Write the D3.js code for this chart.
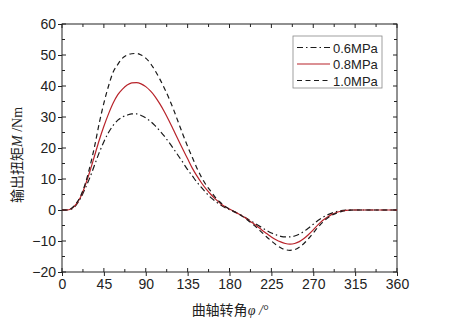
<!DOCTYPE html>
<html><head><meta charset="utf-8">
<script src="https://cdn.jsdelivr.net/npm/d3@7"></script>
<style>body{margin:0;background:#fff}svg{display:block}</style>
</head><body>
<svg id="c" width="452" height="323"></svg>
<script>
const angles = d3.range(0, 365, 5);
const s06 = [0,0,0.3,1.5,3.8,7,10.5,14.5,18.5,22,25,27.3,29,30,30.6,31,31,30.5,29.7,28.6,27.2,25.6,23.8,21.8,19.7,17.5,15.3,13,11,9,7.2,5.5,4,2.8,1.7,0.8,0.1,-0.6,-1.3,-2.1,-3,-3.9,-4.8,-5.7,-6.6,-7.4,-8,-8.5,-8.7,-8.7,-8.4,-7.8,-6.9,-5.8,-4.6,-3.4,-2.4,-1.6,-1,-0.5,-0.2,-0.05,0,0,0,0,0,0,0,0,0,0,0];
const s08 = [0,0,0.4,1.8,4.2,8,12.5,17.5,22.5,27,31,34.5,37.2,39,40.3,41,41.1,40.7,39.8,38.4,36.6,34.3,31.7,28.8,25.7,22.6,19.5,16.5,13.5,11,8.7,6.7,5,3.5,2.2,1.1,0.3,-0.5,-1.3,-2.2,-3.2,-4.2,-5.3,-6.5,-7.6,-8.7,-9.6,-10.3,-10.8,-11,-10.8,-10.2,-9.2,-7.9,-6.4,-4.8,-3.4,-2.3,-1.4,-0.8,-0.4,-0.15,0,0,0,0,0,0,0,0,0,0,0];
const s10 = [0,0,0.5,2,4.5,8.5,14,20.5,28,34.5,40,44.5,47,49,50,50.4,50.5,50,49,47.3,45,42.3,39.3,36,32.3,28.3,24.3,20.5,17,13.5,10.5,8,6,4,2.5,1.2,0.3,-0.5,-1.3,-2.3,-3.4,-4.6,-5.9,-7.3,-8.7,-10,-11.2,-12.2,-12.8,-13,-12.8,-12,-10.8,-9.2,-7.4,-5.6,-4,-2.7,-1.7,-1,-0.5,-0.2,-0.05,0,0,0,0,0,0,0,0,0,0];
const seriesNames = ["0.6MPa","0.8MPa","1.0MPa"];
const xTicks = [0,45,90,135,180,225,270,315,360];
const yTicks = [-20,-10,0,10,20,30,40,50,60];

const svg = d3.select("#c");
const L=62, R=397, T=24, B=272;
const x = d3.scaleLinear().domain([0,360]).range([L,R]);
const y = d3.scaleLinear().domain([-20,60]).range([B,T]);
const font = "'Liberation Sans', Arial, sans-serif";
const ink = "#222";

// frame
svg.append("rect").attr("x",L).attr("y",T).attr("width",R-L).attr("height",B-T)
  .attr("fill","none").attr("stroke",ink).attr("stroke-width",1);

// bottom axis
const gx = svg.append("g").attr("transform",`translate(0,${B})`)
  .call(d3.axisBottom(x).tickValues(xTicks).tickSize(4).tickPadding(3));
gx.select(".domain").remove();
gx.selectAll("text").attr("font-family",font).attr("font-size",14).attr("fill",ink);
gx.selectAll("line").attr("stroke",ink);
// left axis
const gy = svg.append("g").attr("transform",`translate(${L},0)`)
  .call(d3.axisLeft(y).tickValues(yTicks).tickSize(4).tickPadding(2));
gy.select(".domain").remove();
gy.selectAll("text").attr("font-family",font).attr("font-size",14).attr("fill",ink);
gy.selectAll("line").attr("stroke",ink);

// inside ticks (major + minor)
const xMinor = d3.range(0,361,22.5);
const yMinor = d3.range(-20,61,5);
const tk = svg.append("g").attr("stroke",ink).attr("stroke-width",1);
xMinor.forEach(v=>{
  const len = (v%45===0)?4:3;
  tk.append("line").attr("x1",x(v)).attr("x2",x(v)).attr("y1",B).attr("y2",B-len);
  tk.append("line").attr("x1",x(v)).attr("x2",x(v)).attr("y1",T).attr("y2",T+len);
});
yMinor.forEach(v=>{
  const len = (v%10===0)?4:3;
  tk.append("line").attr("y1",y(v)).attr("y2",y(v)).attr("x1",L).attr("x2",L+len);
  tk.append("line").attr("y1",y(v)).attr("y2",y(v)).attr("x1",R).attr("x2",R-len);
});

// curves
const styles = [
  {data:s06, color:"#1a1a1a", dash:"6,3,1.5,3"},
  {data:s08, color:"#b8232a", dash:null},
  {data:s10, color:"#1a1a1a", dash:"5,3.5"}
];
const line = d3.line().x((d,i)=>x(angles[i])).y(d=>y(d)).curve(d3.curveMonotoneX);
styles.forEach(s=>{
  const p = svg.append("path").attr("d",line(s.data)).attr("fill","none")
    .attr("stroke",s.color).attr("stroke-width",1.2);
  if(s.dash) p.attr("stroke-dasharray",s.dash);
});

// legend
const lg = svg.append("g");
lg.append("rect").attr("x",293).attr("y",36).attr("width",89).attr("height",52)
  .attr("fill","#fff").attr("stroke","#888").attr("stroke-width",0.8);
seriesNames.forEach((n,i)=>{
  const yy = 47.5 + i*16.5;
  const l = lg.append("line").attr("x1",297).attr("x2",330).attr("y1",yy).attr("y2",yy)
    .attr("stroke",styles[i].color).attr("stroke-width",1.2);
  if(styles[i].dash) l.attr("stroke-dasharray",styles[i].dash);
  lg.append("text").attr("x",333).attr("y",yy+5).attr("font-family",font)
    .attr("font-size",13).attr("fill",ink).text(n);
});

// axis titles
const cjk = "'Noto Sans CJK SC', sans-serif";
const xt = svg.append("text").attr("x",230).attr("y",315).attr("text-anchor","middle")
  .attr("font-family",cjk).attr("font-size",14).attr("fill",ink);
xt.append("tspan").text("曲轴转角");
xt.append("tspan").attr("font-family","'Liberation Serif', serif").attr("font-style","italic").text("φ");
xt.append("tspan").attr("font-family","'Liberation Serif', serif").attr("font-style","italic").text(" /°");
const yt = svg.append("text").attr("transform",`translate(22,155) rotate(-90)`).attr("text-anchor","middle")
  .attr("font-family",cjk).attr("font-size",14).attr("fill",ink);
yt.append("tspan").text("输出扭矩");
yt.append("tspan").attr("font-family","'Liberation Serif', serif").attr("font-style","italic").text("M");
yt.append("tspan").attr("font-family","'Liberation Serif', serif").text(" /Nm");
</script>
</body></html>
